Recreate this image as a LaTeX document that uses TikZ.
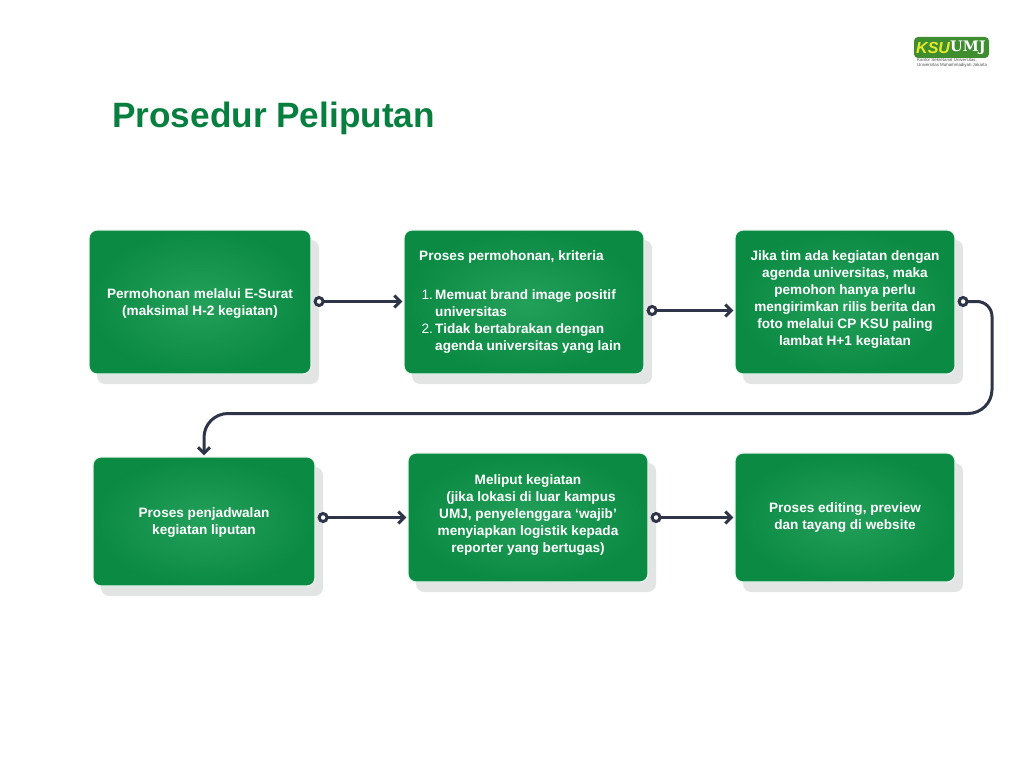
\documentclass[tikz,border=0pt]{standalone}
\usepackage{fontspec}
\setmainfont{Liberation Sans}
\newfontfamily\slabfont{DejaVu Serif}
\usetikzlibrary{arrows.meta,shadows}
\definecolor{ksugreen}{HTML}{0B8A43}
\definecolor{ksulight}{HTML}{23A05A}
\definecolor{ksutitle}{HTML}{07803F}
\definecolor{ksuline}{HTML}{2F3548}
\definecolor{ksushadow}{HTML}{E3E5E4}
\definecolor{ksuyellow}{HTML}{E8E82A}
\definecolor{ksulogo}{HTML}{3E8E2F}
\tikzset{
  steptext/.style={text=white,inner sep=0,font=\bfseries\fontsize{13.6}{17}\selectfont},
  stepbox/.style={steptext,shape=rectangle,rounded corners=8,draw=white!92!ksugreen,line width=1.2,
    inner color=ksulight,outer color=ksugreen,align=center,
    general shadow={shadow xshift=8pt,shadow yshift=-10pt,fill=ksushadow,draw=none}},
  link/.style={draw=ksuline,line width=3,shorten <=2,shorten >=1,
    {Circle[open,fill=white,length=11pt,width=11pt]}-{Straight Barb[length=6pt,width=12pt]}}
}
\begin{document}
\begin{tikzpicture}[x=1pt,y=-1pt]
\useasboundingbox (0,0) rectangle (1024,768);
\node[text=ksutitle,font=\bfseries\fontsize{35.2}{38}\selectfont,anchor=west,inner sep=0] (title) at (112,118.5) {Prosedur Peliputan};

% logo
\node[shape=rectangle,fill=ksulogo,rounded corners=4,minimum width=75,minimum height=21,inner sep=0] (logo) at (951.5,47.5) {};
\node[text=ksuyellow,font=\bfseries\itshape\fontsize{16}{16}\selectfont,anchor=west,inner sep=0] (ksu) at (916,48) {KSU};
\node[text=white,font=\slabfont\bfseries\fontsize{14.5}{15}\selectfont,anchor=west,inner sep=0] (umj) at (950,47.5) {UMJ};
\node[text=black!70,font=\fontsize{4.4}{5}\selectfont,align=left,anchor=north west,inner sep=0] (sub) at (917,58.5) {Kantor Sekretariat Universitas,\\Universitas Muhammadiyah Jakarta};

% first row
\node[stepbox,minimum width=222,minimum height=144] (surat) at (200,302) {};
\node[steptext,align=center] (surattext) at (200,303.5) {Permohonan melalui E-Surat\\(maksimal H-2 kegiatan)};
\node[stepbox,minimum width=240,minimum height=144] (kriteria) at (524,302) {};
\node[steptext,align=left,anchor=north west] (kriterialist) at (419,250) {Proses permohonan, kriteria\\[22pt]
  \makebox[16pt][r]{\mdseries 1.\,}Memuat brand image positif\\
  \makebox[16pt]{}universitas\\
  \makebox[16pt][r]{\mdseries 2.\,}Tidak bertabrakan dengan\\
  \makebox[16pt]{}agenda universitas yang lain};
\node[stepbox,minimum width=220,minimum height=144] (rilis) at (845,302) {};
\node[steptext,align=center] (rilistext) at (845,300) {Jika tim ada kegiatan dengan\\agenda universitas, maka\\pemohon hanya perlu\\mengirimkan rilis berita dan\\foto melalui CP KSU paling\\lambat H+1 kegiatan};

% second row
\node[stepbox,minimum width=222,minimum height=129] (jadwal) at (204,521.5) {};
\node[steptext,align=center] (jadwaltext) at (204,522.5) {Proses penjadwalan\\kegiatan liputan};
\node[stepbox,minimum width=240,minimum height=129] (liput) at (528,517.5) {};
\node[steptext,align=center] (liputtext) at (528,515) {Meliput kegiatan\\\hspace*{6pt}(jika lokasi di luar kampus\\UMJ, penyelenggara ‘wajib’\\menyiapkan logistik kepada\\reporter yang bertugas)};
\node[stepbox,minimum width=220,minimum height=129] (tayang) at (845,517.5) {Proses editing, preview\\dan tayang di website};

\coordinate (turn1) at (992,301.5);
\coordinate (turn2) at (992,413.5);
\coordinate (turn3) at (204,413.5);

\path[link] ([yshift=.5]surat.east) -- ([yshift=.5]surat.east -| kriteria.west);
\path[link] ([yshift=-8.5]kriteria.east) -- ([yshift=-8.5]kriteria.east -| rilis.west);
\path[link] ([yshift=.5]rilis.east) [rounded corners=15] -- (turn1) [rounded corners=24] -- (turn2) -- (turn3) [rounded corners=0] -- (jadwal.north);
\path[link] ([yshift=4]jadwal.east) -- ([yshift=4]jadwal.east -| liput.west);
\path[link] (liput.east) -- (tayang.west);
\end{tikzpicture}
\end{document}
